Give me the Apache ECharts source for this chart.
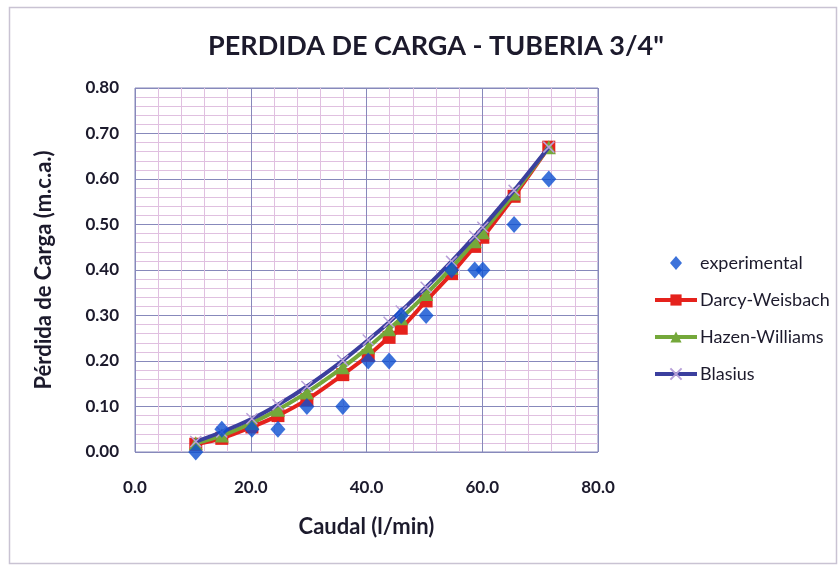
<!DOCTYPE html>
<html>
<head>
<meta charset="utf-8">
<script src="https://cdn.jsdelivr.net/npm/echarts@6/dist/echarts.min.js"></script>
<style>
html,body{margin:0;padding:0;background:#fff;}
#c{width:840px;height:568px;}
</style>
</head>
<body>
<div id="c"></div>
<script>
var titleText = 'PERDIDA DE CARGA - TUBERIA 3/4"';
var xName = 'Caudal (l/min)';
var yName = 'Pérdida de Carga (m.c.a.)';
var seriesNames = ['experimental', 'Darcy-Weisbach', 'Hazen-Williams', 'Blasius'];

var caudal = [10.5, 15.0, 20.2, 24.7, 29.7, 35.9, 40.3, 43.9, 46.0, 50.3, 54.7, 58.7, 60.1, 65.5, 71.5];
var experimental = [0.00, 0.05, 0.05, 0.05, 0.10, 0.10, 0.20, 0.20, 0.30, 0.30, 0.40, 0.40, 0.40, 0.50, 0.60];
var darcy = [0.017, 0.030, 0.055, 0.080, 0.115, 0.170, 0.212, 0.252, 0.272, 0.332, 0.392, 0.452, 0.472, 0.562, 0.670];
var hazen = [0.019, 0.036, 0.064, 0.093, 0.131, 0.186, 0.230, 0.270, 0.294, 0.347, 0.405, 0.463, 0.483, 0.568, 0.670];
var blasius = [0.023, 0.044, 0.073, 0.104, 0.144, 0.201, 0.246, 0.285, 0.310, 0.362, 0.419, 0.474, 0.494, 0.575, 0.670];

function pairs(xs, ys){ return xs.map(function(x,i){ return [x, ys[i]]; }); }

var FONT = 'Lato, "Open Sans", sans-serif';
var TXT = '#1c1a2c';
var majorColor = '#8789bb';
var minorColor = '#e0c0e0';

var chart = echarts.init(document.getElementById('c'));
chart.setOption({
  animation: false,
  backgroundColor: '#ffffff',
  title: {
    text: titleText,
    left: 431, top: 28, textAlign: 'center',
    textStyle: { fontFamily: FONT, fontSize: 27, fontWeight: 'bold', color: TXT }
  },
  graphic: [{
    type: 'rect', left: 7, top: 5, silent: true, z: -10,
    shape: { width: 827, height: 556 },
    style: { fill: 'none', stroke: '#c9c3d3', lineWidth: 1.5 }
  }],
  legend: {
    orient: 'vertical',
    left: 648, top: 249,
    itemGap: 19,
    itemWidth: 42, itemHeight: 14,
    symbolKeepAspect: true,
    lineStyle: { width: 4 },
    textStyle: { fontFamily: FONT, fontSize: 18, color: TXT, padding: [0, 0, 0, -2] },
    data: [
      { name: seriesNames[0], icon: 'path://M6,0L12,7L6,14L0,7Z' },
      seriesNames[1], seriesNames[2], seriesNames[3]
    ]
  },
  grid: { left: 135, right: 242, top: 88, bottom: 116, show: true, borderColor: majorColor, borderWidth: 1 },
  xAxis: {
    type: 'value', min: 0, max: 80, interval: 20,
    name: xName, nameLocation: 'middle', nameGap: 64,
    nameTextStyle: { fontFamily: FONT, fontSize: 22, fontWeight: 'bold', color: TXT },
    axisLine: { show: false },
    axisTick: { show: false },
    axisLabel: { margin: 27, fontFamily: FONT, fontSize: 17, fontWeight: 'bold', color: TXT,
      formatter: function(v){ return v.toFixed(1); } },
    splitLine: { show: true, lineStyle: { color: majorColor, width: 1 } },
    minorTick: { show: false, splitNumber: 5 },
    minorSplitLine: { show: true, lineStyle: { color: minorColor, width: 1 } }
  },
  yAxis: {
    type: 'value', min: 0, max: 0.8, interval: 0.1,
    name: yName, nameLocation: 'middle', nameGap: 80, nameRotate: 90,
    nameTextStyle: { fontFamily: FONT, fontSize: 22, fontWeight: 'bold', color: TXT },
    axisLine: { show: false },
    axisTick: { show: false },
    axisLabel: { margin: 16, fontFamily: FONT, fontSize: 17, fontWeight: 'bold', color: TXT,
      formatter: function(v){ return v.toFixed(2); } },
    splitLine: { show: true, lineStyle: { color: majorColor, width: 1 } },
    minorTick: { show: false, splitNumber: 5 },
    minorSplitLine: { show: true, lineStyle: { color: minorColor, width: 1 } }
  },
  series: [
    {
      name: seriesNames[1], type: 'line', data: pairs(caudal, darcy), smooth: 0.3, z: 3,
      symbol: 'rect', symbolSize: 13,
      lineStyle: { color: '#e5221c', width: 4 },
      itemStyle: { color: '#e5221c' }
    },
    {
      name: seriesNames[2], type: 'line', data: pairs(caudal, hazen), smooth: 0.3, z: 4,
      symbol: 'triangle', symbolSize: 14,
      lineStyle: { color: '#74a83a', width: 4 },
      itemStyle: { color: '#74a83a' }
    },
    {
      name: seriesNames[3], type: 'line', data: pairs(caudal, blasius), smooth: 0.3, z: 5,
      symbol: 'path://M0,0L10,10M10,0L0,10', symbolSize: 11,
      lineStyle: { color: '#3b3f9e', width: 4 },
      itemStyle: { color: '#b8a0d8', borderColor: '#b8a0d8', borderWidth: 1.5 }
    },
    {
      name: seriesNames[0], type: 'scatter', data: pairs(caudal, experimental), z: 6,
      symbol: 'diamond', symbolSize: [15, 17],
      itemStyle: { color: '#0b4fd1' }
    }
  ]
});
</script>
</body>
</html>
